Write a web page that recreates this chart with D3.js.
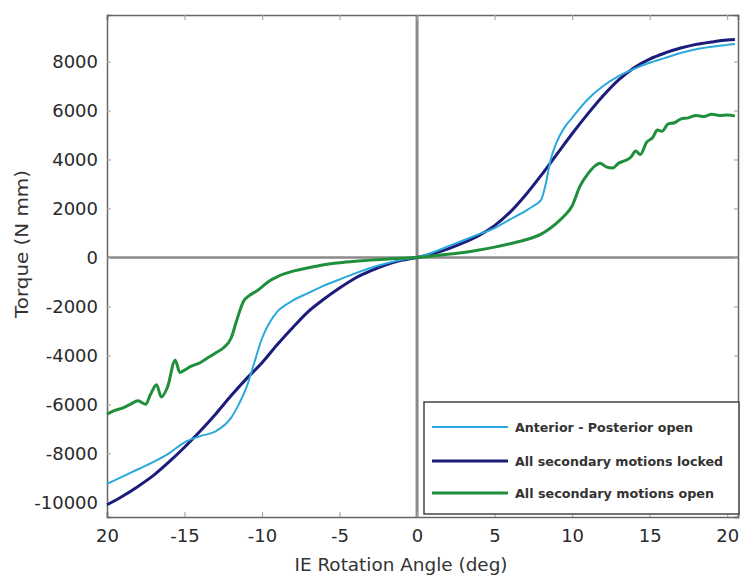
<!DOCTYPE html>
<html>
<head>
<meta charset="utf-8">
<script src="https://cdn.jsdelivr.net/npm/d3@7"></script>
<style>
  body { margin: 0; background: #fff; }
  svg { display: block; }
</style>
</head>
<body>
<svg id="chart" width="741" height="581"></svg>
<script>
// ---- data ----
const seriesNames = ["Anterior - Posterior open", "All secondary motions locked", "All secondary motions open"];
const xTickValues = [-20, -15, -10, -5, 0, 5, 10, 15, 20];
const xTickLabels = ["20", "-15", "-10", "-5", "0", "5", "10", "15", "20"];
const yTickValues = [-10000, -8000, -6000, -4000, -2000, 0, 2000, 4000, 6000, 8000];
const yTickLabels = ["-10000", "-8000", "-6000", "-4000", "-2000", "0", "2000", "4000", "6000", "8000"];

const apOpenX = [-20,-19,-18,-17,-16,-15,-14,-13,-12,-11.5,-11,-10.5,-10,-9.5,-9,-8.5,-8,-7,-6,-5,-4,-3,-2,-1,0,1,2,3,4,5,6,7,7.5,8,8.3,8.6,9,9.5,10,11,12,13,14,15,16,17,18,19,20,20.5];
const apOpenY = [-9250,-8950,-8650,-8350,-8000,-7550,-7300,-7100,-6550,-6000,-5300,-4300,-3300,-2650,-2200,-1950,-1750,-1450,-1150,-900,-650,-430,-250,-100,0,200,450,700,950,1200,1550,1900,2100,2350,3000,3950,4700,5300,5700,6450,7000,7400,7700,7950,8150,8350,8500,8600,8680,8720];

const lockedX = [-20,-19,-18,-17,-16,-15,-14,-13,-12,-11,-10,-9,-8,-7,-6,-5,-4,-3,-2,-1,0,1,2,3,4,5,6,7,8,9,10,11,12,13,14,15,16,17,18,19,20,20.5];
const lockedY = [-10100,-9750,-9350,-8900,-8350,-7750,-7100,-6400,-5650,-4950,-4300,-3550,-2850,-2200,-1700,-1250,-850,-550,-300,-120,0,150,350,600,900,1300,1850,2550,3350,4200,5050,5850,6600,7250,7750,8100,8350,8550,8700,8800,8880,8900];

const allOpenX = [-20,-19.5,-19,-18.5,-18,-17.5,-17.2,-16.8,-16.5,-16.1,-15.6,-15.3,-15,-14.6,-14,-13.5,-13,-12.5,-12,-11.6,-11.2,-10.8,-10.3,-10,-9.5,-9,-8,-7,-6,-5,-4,-3,-2,-1,0,1,2,3,4,5,6,7,8,8.5,9,9.5,10,10.5,11,11.5,11.8,12.2,12.6,13,13.4,13.8,14.1,14.4,14.8,15.2,15.5,15.8,16.2,16.6,17,17.5,18,18.5,19,19.5,20,20.5];
const allOpenY = [-6400,-6250,-6150,-6000,-5850,-6000,-5600,-5200,-5700,-5300,-4200,-4700,-4600,-4450,-4300,-4100,-3900,-3700,-3300,-2500,-1800,-1550,-1350,-1200,-950,-780,-560,-420,-300,-220,-160,-110,-70,-30,0,60,130,200,300,420,560,720,950,1150,1400,1700,2100,2900,3400,3750,3850,3700,3650,3850,3950,4100,4350,4200,4700,4900,5200,5150,5450,5500,5650,5700,5800,5750,5850,5800,5820,5780];

const colors = ["#2aa8dc", "#1c1c7c", "#1f8f3c"];

// ---- layout ----
const svg = d3.select("#chart");
const pLeft = 107, pRight = 738, pTop = 15, pBottom = 517;
const x = d3.scaleLinear().domain([-20, 20.7]).range([pLeft, pRight]);
const y = d3.scaleLinear().domain([-10600, 9900]).range([pBottom, pTop]);

// zero lines
svg.append("line").attr("x1", pLeft).attr("x2", pRight).attr("y1", y(0)).attr("y2", y(0))
  .attr("stroke", "#8a8a8a").attr("stroke-width", 2.5);
svg.append("line").attr("x1", x(0)).attr("x2", x(0)).attr("y1", pTop).attr("y2", pBottom)
  .attr("stroke", "#8a8a8a").attr("stroke-width", 3);

// axes (ticks inward)
const tickFont = "DejaVu Sans, sans-serif";
const gx = svg.append("g").attr("transform", `translate(0,${pBottom})`)
  .call(d3.axisBottom(x).tickValues(xTickValues).tickSize(-5).tickPadding(12)
    .tickFormat((d, i) => xTickLabels[i]));
const gxt = svg.append("g").attr("transform", `translate(0,${pTop})`)
  .call(d3.axisTop(x).tickValues(xTickValues).tickSize(-5).tickFormat(""));
const gy = svg.append("g").attr("transform", `translate(${pLeft},0)`)
  .call(d3.axisLeft(y).tickValues(yTickValues).tickSize(-4).tickPadding(9)
    .tickFormat((d, i) => yTickLabels[i]));
const gyr = svg.append("g").attr("transform", `translate(${pRight},0)`)
  .call(d3.axisRight(y).tickValues(yTickValues).tickSize(-4).tickFormat(""));
[gx, gxt, gy, gyr].forEach(g => {
  g.select(".domain").attr("stroke", "#666").attr("stroke-width", 1.5);
  g.selectAll(".tick line").attr("stroke", "#aaa").attr("stroke-width", 1.2);
  g.selectAll(".tick text").attr("fill", "#2a2a2a").attr("font-family", tickFont).attr("font-size", 18);
});

// lines
const line = d3.line().x(d => x(d[0])).y(d => y(d[1])).curve(d3.curveMonotoneX);
const series = [
  { name: seriesNames[1], xs: lockedX, ys: lockedY, color: colors[1], w: 3 },
  { name: seriesNames[0], xs: apOpenX, ys: apOpenY, color: colors[0], w: 2 },
  { name: seriesNames[2], xs: allOpenX, ys: allOpenY, color: colors[2], w: 3 }
];
series.forEach(s => {
  svg.append("path").datum(s.xs.map((v, i) => [v, s.ys[i]]))
    .attr("d", line).attr("fill", "none").attr("stroke", s.color)
    .attr("stroke-width", s.w).attr("stroke-linejoin", "round");
});

// axis titles
svg.append("text").attr("x", 401).attr("y", 571).attr("text-anchor", "middle")
  .attr("font-family", tickFont).attr("font-size", 17).attr("fill", "#333")
  .attr("textLength", 213).attr("lengthAdjust", "spacingAndGlyphs")
  .text("IE Rotation Angle (deg)");
svg.append("text").attr("transform", "translate(28,244) rotate(-90)").attr("text-anchor", "middle")
  .attr("font-family", tickFont).attr("font-size", 17).attr("fill", "#333")
  .attr("textLength", 148).attr("lengthAdjust", "spacingAndGlyphs")
  .text("Torque (N mm)");

// legend
const lg = svg.append("g");
lg.append("rect").attr("x", 424).attr("y", 402).attr("width", 315).attr("height", 112)
  .attr("fill", "#fff").attr("stroke", "#444").attr("stroke-width", 1.5);
const legendItems = [
  { name: seriesNames[0], color: colors[0], w: 2, ly: 427, len: 178 },
  { name: seriesNames[1], color: colors[1], w: 3, ly: 461, len: 208 },
  { name: seriesNames[2], color: colors[2], w: 3, ly: 493, len: 199 }
];
legendItems.forEach(it => {
  lg.append("line").attr("x1", 432).attr("x2", 508).attr("y1", it.ly).attr("y2", it.ly)
    .attr("stroke", it.color).attr("stroke-width", it.w);
  lg.append("text").attr("x", 515).attr("y", it.ly + 5)
    .attr("font-family", tickFont).attr("font-size", 13).attr("font-weight", "bold").attr("fill", "#333")
    .attr("textLength", it.len).attr("lengthAdjust", "spacingAndGlyphs")
    .text(it.name);
});
</script>
</body>
</html>
